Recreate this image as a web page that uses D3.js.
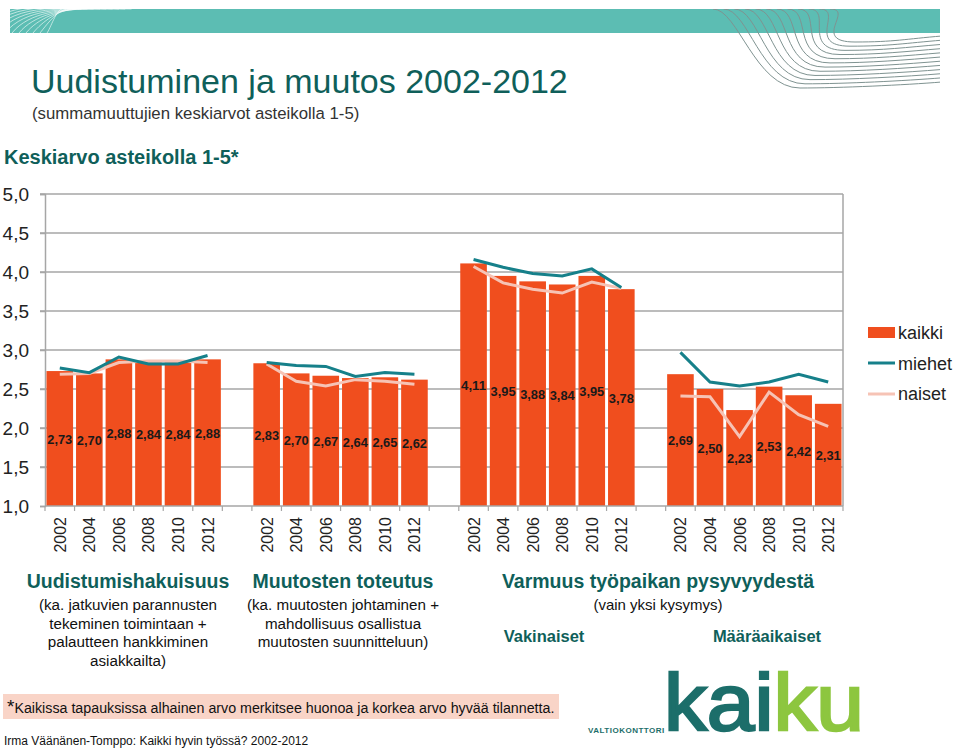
<!DOCTYPE html>
<html>
<head>
<meta charset="utf-8">
<script src="https://cdn.jsdelivr.net/npm/d3@7"></script>
<style>
  body { margin: 0; background: #fff; }
  svg text { font-family: "Liberation Sans", Arial, sans-serif; }
</style>
</head>
<body>
<div class="chart"></div>
<script>
// data
const years = ['2002', '2004', '2006', '2008', '2010', '2012'];
const groups = ['Uudistumishakuisuus', 'Muutosten toteutus', 'Vakinaiset', 'Määräaikaiset'];
const kaikki = [
  [2.73, 2.70, 2.88, 2.84, 2.84, 2.88],
  [2.83, 2.70, 2.67, 2.64, 2.65, 2.62],
  [4.11, 3.95, 3.88, 3.84, 3.95, 3.78],
  [2.69, 2.50, 2.23, 2.53, 2.42, 2.31]
];
const miehet = [
  [2.77, 2.71, 2.91, 2.82, 2.82, 2.93],
  [2.84, 2.80, 2.79, 2.66, 2.71, 2.69],
  [4.16, 4.06, 3.98, 3.95, 4.04, 3.80],
  [2.97, 2.59, 2.54, 2.59, 2.69, 2.59]
];
const naiset = [
  [2.69, 2.70, 2.84, 2.86, 2.86, 2.84],
  [2.82, 2.60, 2.54, 2.62, 2.60, 2.56],
  [4.07, 3.86, 3.78, 3.73, 3.87, 3.79],
  [2.41, 2.40, 1.89, 2.46, 2.17, 2.02]
];
const yTicks = [1, 1.5, 2, 2.5, 3, 3.5, 4, 4.5, 5];
const seriesNames = ['kaikki', 'miehet', 'naiset'];

const colBar = '#f04e1e', colMen = '#16808a', colWomen = '#f6c3b5';
const teal = '#0f5f5a';

let outWidth = 960, outHeight = 749;
let plot = {left: 45, right: 843, top: 194, bottom: 506};

const svg = d3.select('.chart').append('svg')
  .attr('width', outWidth)
  .attr('height', outHeight);

// ---- header band with wavy decoration
svg.append('rect')
  .attr('x', 10).attr('y', 9).attr('width', 930).attr('height', 24)
  .attr('fill', '#5cbdb3');
const deco = svg.append('g');
for (let i = 0; i < 12; i++) {
  const p = d3.path();
  const cx = 55, r = 8 + i * 7;
  p.moveTo(cx - r, 33);
  p.bezierCurveTo(cx - r * 0.6, 33 - r * 0.5, cx + r * 0.2, 9, cx + r * 0.9, 9);
  deco.append('path').attr('d', p.toString())
    .attr('fill', 'none').attr('stroke', '#ffffff').attr('stroke-opacity', 0.6).attr('stroke-width', 1);
}
const clip = svg.append('clipPath').attr('id', 'decoClip');
clip.append('rect').attr('x', 0).attr('y', 9).attr('width', 940).attr('height', 120);
const deco2 = svg.append('g').attr('clip-path', 'url(#decoClip)');
for (let i = 0; i < 12; i++) {
  const t = i / 11;
  const sx = 713 + t * 117, tx = 800 + t * 55, ty = 88 - t * 46, ey = 82 - t * 46;
  const p = d3.path();
  p.moveTo(sx, 9);
  p.bezierCurveTo(sx + 25, 9, tx - 45, ty, tx, ty);
  p.bezierCurveTo(tx + 40, ty, 905, ey + 3, 942, ey);
  deco2.append('path').attr('d', p.toString())
    .attr('fill', 'none').attr('stroke', '#7f9391').attr('stroke-width', 1);
}

// ---- titles
svg.append('text').attr('x', 31).attr('y', 93)
  .attr('font-size', 34).attr('fill', teal)
  .text('Uudistuminen ja muutos 2002-2012');
svg.append('text').attr('x', 32).attr('y', 119)
  .attr('font-size', 16.8).attr('fill', '#333')
  .text('(summamuuttujien keskiarvot asteikolla 1-5)');
svg.append('text').attr('x', 4).attr('y', 164)
  .attr('font-size', 20).attr('font-weight', 'bold').attr('fill', teal)
  .text('Keskiarvo asteikolla 1-5*');

// ---- scales
const slots = [];
groups.forEach((g, gi) => {
  years.forEach(y => slots.push(gi + '-' + y));
  if (gi < groups.length - 1) slots.push(gi + '-gap');
});

const xScale = d3.scaleBand()
  .domain(slots)
  .range([plot.left, plot.right])
  .paddingInner(0.1)
  .paddingOuter(0.05);
const yScale = d3.scaleLinear()
  .domain([1, 5])
  .range([plot.bottom, plot.top]);

const g = svg.append('g');

// gridlines
g.selectAll('.grid')
  .data(yTicks.slice(1))
  .enter().append('line')
  .attr('x1', plot.left - 5).attr('x2', plot.right)
  .attr('y1', d => yScale(d)).attr('y2', d => yScale(d))
  .attr('stroke', '#a6a6a6').attr('stroke-width', 1.5);
g.append('line')
  .attr('x1', plot.right).attr('x2', plot.right)
  .attr('y1', plot.top).attr('y2', plot.bottom)
  .attr('stroke', '#a6a6a6').attr('stroke-width', 1.5);

// y axis
const yAxis = d3.axisLeft(yScale)
  .tickValues(yTicks)
  .tickSize(5)
  .tickFormat(d => d3.format('.1f')(d).replace('.', ','));
const yg = g.append('g')
  .attr('transform', `translate(${plot.left},0)`)
  .call(yAxis);
yg.select('.domain').attr('stroke', '#a6a6a6').attr('stroke-width', 1.5);
yg.selectAll('.tick line').attr('stroke', '#a6a6a6').attr('stroke-width', 1.5);
yg.selectAll('.tick text')
  .attr('x', -16).attr('font-size', 19).attr('fill', '#222')
  .attr('font-family', '"Liberation Sans", Arial, sans-serif');

// bars
const barData = [];
kaikki.forEach((arr, gi) => arr.forEach((v, i) => barData.push({key: gi + '-' + years[i], v: v})));

g.selectAll('.bar')
  .data(barData)
  .enter().append('rect')
  .attr('class', 'bar')
  .attr('x', d => xScale(d.key))
  .attr('y', d => yScale(d.v))
  .attr('width', xScale.bandwidth())
  .attr('height', d => yScale(1) - yScale(d.v))
  .attr('fill', colBar);

// lines per group
const line = d3.line()
  .x(d => xScale(d.key) + xScale.bandwidth() / 2)
  .y(d => yScale(d.v));

function groupSeries(arr) {
  return arr.map((vals, gi) => vals.map((v, i) => ({key: gi + '-' + years[i], v: v})));
}

g.selectAll('.women')
  .data(groupSeries(naiset))
  .enter().append('path')
  .attr('d', line)
  .attr('fill', 'none').attr('stroke', colWomen).attr('stroke-width', 3);
g.selectAll('.men')
  .data(groupSeries(miehet))
  .enter().append('path')
  .attr('d', line)
  .attr('fill', 'none').attr('stroke', colMen).attr('stroke-width', 3);

// value labels centred in each bar
g.selectAll('.val')
  .data(barData)
  .enter().append('text')
  .attr('x', d => xScale(d.key) + xScale.bandwidth() / 2)
  .attr('y', d => (yScale(d.v) + yScale(1)) / 2 + 5)
  .attr('text-anchor', 'middle')
  .attr('font-size', 13.5).attr('font-weight', 'bold').attr('fill', '#1a1a1a')
  .attr('textLength', 25).attr('lengthAdjust', 'spacingAndGlyphs')
  .text(d => d3.format('.2f')(d.v).replace('.', ','));

// x axis: ticks on slot boundaries
const step = xScale.step();
const bounds = d3.range(slots.length + 1).map(i => plot.left + i * step);
g.append('line')
  .attr('x1', plot.left).attr('x2', plot.right)
  .attr('y1', plot.bottom).attr('y2', plot.bottom)
  .attr('stroke', '#a6a6a6').attr('stroke-width', 1.5);
g.selectAll('.xtick')
  .data(bounds)
  .enter().append('line')
  .attr('x1', d => d).attr('x2', d => d)
  .attr('y1', plot.bottom).attr('y2', plot.bottom + 5)
  .attr('stroke', '#a6a6a6').attr('stroke-width', 1.2);

g.selectAll('.xlab')
  .data(slots.filter(s => !s.endsWith('gap')))
  .enter().append('text')
  .attr('transform', d => `translate(${xScale(d) + xScale.bandwidth() / 2 + 6},${plot.bottom + 11}) rotate(-90)`)
  .attr('text-anchor', 'end')
  .attr('font-size', 16).attr('fill', '#222')
  .text(d => d.split('-')[1]);

// ---- legend
const lg = svg.append('g').attr('transform', 'translate(868,0)');
lg.append('rect').attr('x', 0).attr('y', 327).attr('width', 27).attr('height', 11).attr('fill', colBar);
lg.append('line').attr('x1', 0).attr('x2', 27).attr('y1', 363).attr('y2', 363)
  .attr('stroke', colMen).attr('stroke-width', 3);
lg.append('line').attr('x1', 0).attr('x2', 27).attr('y1', 394).attr('y2', 394)
  .attr('stroke', colWomen).attr('stroke-width', 3);
lg.selectAll('.lt')
  .data(seriesNames)
  .enter().append('text')
  .attr('x', 30).attr('y', (d, i) => 339 + i * 30.5)
  .attr('font-size', 18).attr('fill', '#222')
  .text(d => d);

// ---- captions under the axis
function caption(x, y, bold, lines, size) {
  svg.append('text').attr('x', x).attr('y', y)
    .attr('text-anchor', 'middle').attr('font-size', 19.5).attr('font-weight', 'bold').attr('fill', teal)
    .text(bold);
  lines.forEach((t, i) => {
    svg.append('text').attr('x', x).attr('y', y + 22 + i * 18.7)
      .attr('text-anchor', 'middle').attr('font-size', size || 15.2).attr('fill', '#111')
      .text(t);
  });
}
caption(128, 588, 'Uudistumishakuisuus',
  ['(ka. jatkuvien parannusten', 'tekeminen toimintaan +', 'palautteen hankkiminen', 'asiakkailta)']);
caption(343, 588, 'Muutosten toteutus',
  ['(ka. muutosten johtaminen +', 'mahdollisuus osallistua', 'muutosten suunnitteluun)']);
caption(658, 588, 'Varmuus työpaikan pysyvyydestä', ['(vain yksi kysymys)'], 15);
svg.append('text').attr('x', 544).attr('y', 642).attr('text-anchor', 'middle')
  .attr('font-size', 16.5).attr('font-weight', 'bold').attr('fill', teal).text(groups[2]);
svg.append('text').attr('x', 767).attr('y', 642).attr('text-anchor', 'middle')
  .attr('font-size', 16.5).attr('font-weight', 'bold').attr('fill', teal).text(groups[3]);

// ---- footnote
svg.append('rect').attr('x', 3).attr('y', 694).attr('width', 556).attr('height', 25).attr('fill', '#f9d4c7');
const fn = svg.append('text').attr('x', 7).attr('y', 713).attr('fill', '#111');
fn.append('tspan').attr('font-size', 19).text('*');
fn.append('tspan').attr('font-size', 14)
  .attr('textLength', 540).attr('lengthAdjust', 'spacingAndGlyphs')
  .text('Kaikissa tapauksissa alhainen arvo merkitsee huonoa ja korkea arvo hyvää tilannetta.');
svg.append('text').attr('x', 4).attr('y', 745).attr('font-size', 12).attr('fill', '#111')
  .text('Irma Väänänen-Tomppo: Kaikki hyvin työssä? 2002-2012');

// ---- logo
svg.append('text').attr('x', 588).attr('y', 733)
  .attr('font-size', 8).attr('font-weight', 'bold').attr('fill', '#1c6e6a').attr('letter-spacing', 0.5)
  .text('VALTIOKONTTORI');
const logo = svg.append('text').attr('x', 664).attr('y', 730)
  .attr('font-size', 80).attr('stroke-width', 2.5)
  .attr('textLength', 200).attr('lengthAdjust', 'spacingAndGlyphs');
logo.append('tspan').attr('fill', '#1c6e6a').attr('stroke', '#1c6e6a').text('kai');
logo.append('tspan').attr('fill', '#8dc63f').attr('stroke', '#8dc63f').text('ku');
</script>
</body>
</html>
